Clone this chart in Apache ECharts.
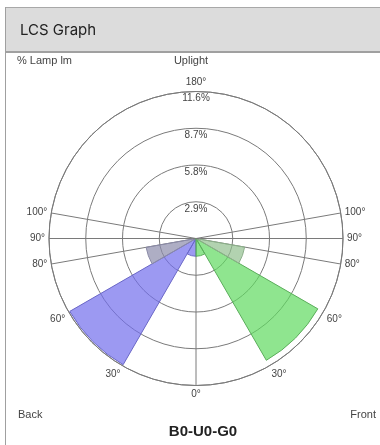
<!DOCTYPE html>
<html>
<head>
<meta charset="utf-8">
<script src="https://cdn.jsdelivr.net/npm/echarts@6/dist/echarts.min.js"></script>
<style>
html,body{margin:0;padding:0;background:#fff;}
#c{width:380px;height:445px;}
</style>
</head>
<body>
<div id="c"></div>
<script>
// ---- data ----
const zoneNames = ['BL', 'BM', 'BH', 'BVH', 'FL', 'FM', 'FH', 'FVH'];
const zoneFrom  = [-30, -60, -80, -90, 0, 30, 60, 80];   // degrees from nadir (negative = back)
const zoneTo    = [0, -30, -60, -80, 30, 60, 80, 90];
const lampPct   = [1.4, 11.5, 4.0, 0.2, 1.4, 11.1, 3.9, 0.2]; // % lamp lumens
const ringTicks = [2.9, 5.8, 8.7, 11.6];
const angleLabels = [0, 30, 60, 80, 90, 100, 180];
const radialLines = [-100, -90, -80, 0, 80, 90, 100];

// ---- styles ----
const zoneFill = {
  BL: 'rgba(114,109,236,0.7)', BM: 'rgba(114,109,236,0.7)',
  BH: 'rgba(139,139,171,0.7)', BVH: 'rgba(110,110,140,0.8)',
  FL: 'rgba(95,218,95,0.7)', FM: 'rgba(95,218,95,0.7)',
  FH: 'rgba(145,191,142,0.7)', FVH: 'rgba(120,160,120,0.8)'
};
const zoneStroke = {
  BL: '#6a67c6', BM: '#6a67c6', BH: '#8a8aa6', BVH: '#777',
  FL: '#5aac5a', FM: '#5aac5a', FH: '#8cae8a', FVH: '#777'
};
const gridColor = '#7a7a7a';
const labelFont = { fontFamily: 'Liberation Sans, Arial, sans-serif', fontSize: 10, color: '#444' };

const splitColors = [];
for (let v = -180; v <= 180; v += 10) {
  splitColors.push(radialLines.includes(v) ? gridColor : 'rgba(0,0,0,0)');
}

function renderZone(params, api) {
  const a0 = api.value(0), a1 = api.value(1), v = api.value(2);
  if (!(v > 0)) return null;
  const cs = params.coordSys;
  const p0 = api.coord([v, a0]);
  const p1 = api.coord([v, a1]);
  const r = Math.hypot(p0[0] - cs.cx, p0[1] - cs.cy);
  let s = Math.atan2(p1[1] - cs.cy, p1[0] - cs.cx);
  let e = Math.atan2(p0[1] - cs.cy, p0[0] - cs.cx);
  if (e < s) e += 2 * Math.PI;
  const name = zoneNames[params.dataIndex];
  return {
    type: 'sector',
    shape: { cx: cs.cx, cy: cs.cy, r0: 0, r: r, startAngle: s, endAngle: e, clockwise: true },
    style: { fill: zoneFill[name], stroke: zoneStroke[name], lineWidth: 1 }
  };
}

const chart = echarts.init(document.getElementById('c'), null, { renderer: 'canvas' });
chart.setOption({
  animation: false,
  polar: { center: [196, 238.5], radius: 147 },
  angleAxis: {
    type: 'value', min: -180, max: 180, interval: 10,
    startAngle: 90, clockwise: false,
    axisLine: { show: true, lineStyle: { color: gridColor, width: 1 } },
    axisTick: { show: false },
    axisLabel: Object.assign({
      margin: 4,
      formatter: function (v) { return angleLabels.includes(Math.abs(v)) ? Math.abs(v) + '°' : ''; }
    }, labelFont),
    splitLine: { show: true, lineStyle: { color: splitColors, width: 1 } }
  },
  radiusAxis: {
    type: 'value', min: 0, max: ringTicks[ringTicks.length - 1], interval: ringTicks[0],
    axisLine: { show: false }, axisTick: { show: false },
    axisLabel: Object.assign({
      margin: 0, align: 'center', verticalAlign: 'top', padding: [2, 0, 0, 0],
      showMaxLabel: true, showMinLabel: false,
      formatter: function (v) { return v > 0 ? v.toFixed(1) + '%' : ''; }
    }, labelFont),
    splitLine: { show: true, lineStyle: { color: gridColor, width: 1 } }
  },
  series: [{
    type: 'custom',
    coordinateSystem: 'polar',
    renderItem: renderZone,
    data: zoneFrom.map(function (f, i) { return [f, zoneTo[i], lampPct[i]]; })
  }],
  graphic: [
    { type: 'rect', silent: true, shape: { x: 5, y: 7, width: 375, height: 45 }, style: { fill: '#dcdcdc' } },
    { type: 'line', silent: true, shape: { x1: 5, y1: 7.5, x2: 380, y2: 7.5 }, style: { stroke: '#a8a8a8', lineWidth: 1 } },
    { type: 'line', silent: true, shape: { x1: 5, y1: 52, x2: 380, y2: 52 }, style: { stroke: '#a0a0a0', lineWidth: 2 } },
    { type: 'line', silent: true, shape: { x1: 5.5, y1: 7, x2: 5.5, y2: 445 }, style: { stroke: '#a0a0a0', lineWidth: 1 } },
    { type: 'text', silent: true, style: { text: 'LCS Graph', x: 20, y: 30, font: '15px Inter, sans-serif', fill: '#222', verticalAlign: 'middle', align: 'left' } },
    { type: 'text', silent: true, style: { text: '% Lamp lm', x: 17, y: 61, font: '11px "Liberation Sans", Arial, sans-serif', fill: '#444', verticalAlign: 'middle', align: 'left' } },
    { type: 'text', silent: true, style: { text: 'Uplight', x: 191, y: 61, font: '11px "Liberation Sans", Arial, sans-serif', fill: '#444', verticalAlign: 'middle', align: 'center' } },
    { type: 'text', silent: true, style: { text: 'Back', x: 18, y: 415, font: '11px "Liberation Sans", Arial, sans-serif', fill: '#444', verticalAlign: 'middle', align: 'left' } },
    { type: 'text', silent: true, style: { text: 'Front', x: 376, y: 415, font: '11px "Liberation Sans", Arial, sans-serif', fill: '#444', verticalAlign: 'middle', align: 'right' } },
    { type: 'text', silent: true, style: { text: 'B0-U0-G0', x: 203, y: 432, font: 'bold 15px "Liberation Sans", Arial, sans-serif', fill: '#222', verticalAlign: 'middle', align: 'center' } }
  ]
});
</script>
</body>
</html>
